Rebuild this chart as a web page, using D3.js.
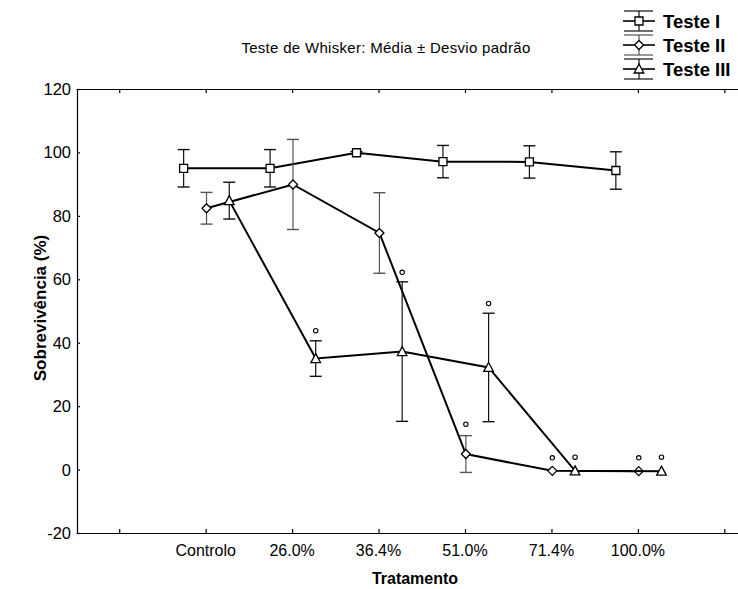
<!DOCTYPE html>
<html>
<head>
<meta charset="utf-8">
<script src="https://cdn.jsdelivr.net/npm/d3@7"></script>
<style>
    body { margin: 0; background: #fff; }
    svg { display: block; font-family: "Liberation Sans", Arial, sans-serif; }
</style>
</head>
<body>
<div id="chart"></div>
<script>
// Categories and tick labels
const categories = ['Controlo', '26.0%', '36.4%', '51.0%', '71.4%', '100.0%'];
const yTicks = [-20, 0, 20, 40, 60, 80, 100, 120];
const seriesNames = ['Teste I', 'Teste II', 'Teste III'];

// Means (%) per category
const meanI   = [95.0, 95.0, 99.9, 97.1, 97.0, 94.3];
const meanII  = [82.4, 89.9, 74.6, 4.9, -0.4, -0.5];
const meanIII = [84.8, 35.0, 37.2, 32.2, -0.4, -0.5];

// Standard deviations
const sdI   = [5.9, 5.9, 0.4, 5.1, 5.1, 5.9];
const sdII  = [5.0, 14.2, 12.7, 5.8, 0, 0];
const sdIII = [5.8, 5.6, 22.0, 17.1, 0, 0];

// Significance marks ("o") above points, null = none
const sigI   = [null, null, null, null, null, null];
const sigII  = [null, null, null, 14.3, 3.7, 3.7];
const sigIII = [null, 43.8, 62.2, 52.4, 3.9, 3.9];

const W = 738, H = 589;
const margin = { left: 77, top: 89, bottom: 533 };

const svg = d3.select('#chart').append('svg')
    .attr('width', W)
    .attr('height', H);

// x: tick slots 0..7, categories sit at slots 1..6
const x = d3.scaleLinear().domain([-0.5, 8.5]).range([76, 854]);
const y = d3.scaleLinear().domain([-20, 120]).range([margin.bottom, margin.top]);

const series = [
    { name: seriesNames[0], mean: meanI, sd: sdI, sig: sigI, shift: -0.255, shape: 'square', barColor: '#111' },
    { name: seriesNames[1], mean: meanII, sd: sdII, sig: sigII, shift: 0.01, shape: 'diamond', barColor: '#555' },
    { name: seriesNames[2], mean: meanIII, sd: sdIII, sig: sigIII, shift: 0.273, shape: 'triangle', barColor: '#111' }
];

// Frame: left, bottom and top axes (right side falls outside the window)
const axisG = svg.append('g');
axisG.append('g')
    .attr('transform', `translate(0,${margin.bottom})`)
    .call(d3.axisBottom(x).tickValues(d3.range(0, 9)).tickSizeInner(-4).tickSizeOuter(0).tickFormat(''));
axisG.append('g')
    .attr('transform', `translate(0,${margin.top})`)
    .call(d3.axisTop(x).tickValues(d3.range(0, 9)).tickSizeInner(-4).tickSizeOuter(0).tickFormat(''));
axisG.append('g')
    .attr('transform', `translate(${margin.left},0)`)
    .call(d3.axisLeft(y).tickValues(yTicks).tickSizeInner(-3).tickSizeOuter(0).tickFormat(''));
axisG.selectAll('path.domain, line').attr('stroke', '#000').attr('stroke-width', 1.2);

// y tick labels
svg.append('g').selectAll('text')
    .data(yTicks)
    .enter().append('text')
    .attr('x', 71)
    .attr('y', d => y(d) + 6)
    .attr('text-anchor', 'end')
    .attr('font-size', '16.5px')
    .text(d => d);

// x tick labels
svg.append('g').selectAll('text')
    .data(categories)
    .enter().append('text')
    .attr('x', (d, i) => x(i + 1))
    .attr('y', 556)
    .attr('text-anchor', 'middle')
    .attr('font-size', '16px')
    .text(d => d);

// Axis titles
svg.append('text')
    .attr('transform', `translate(46,${(margin.top + margin.bottom) / 2 - 3}) rotate(-90)`)
    .attr('text-anchor', 'middle')
    .attr('font-size', '17px')
    .attr('font-weight', 'bold')
    .text('Sobrevivência (%)');

svg.append('text')
    .attr('x', 415)
    .attr('y', 584)
    .attr('text-anchor', 'middle')
    .attr('font-size', '16px')
    .attr('font-weight', 'bold')
    .text('Tratamento');

svg.append('text')
    .attr('x', 386)
    .attr('y', 53)
    .attr('text-anchor', 'middle')
    .attr('font-size', '15px')
    .attr('letter-spacing', '0.3px')
    .text('Teste de Whisker: Média ± Desvio padrão');

function symbolPath(shape) {
    if (shape === 'square') return 'M-4,-4H4V4H-4Z';
    if (shape === 'diamond') return 'M0,-4.5L4.5,0L0,4.5L-4.5,0Z';
    return 'M0,-5L4.8,4L-4.8,4Z';
}

const plot = svg.append('g');

series.forEach(s => {
    const g = plot.append('g');
    const pts = s.mean.map((m, i) => ({ i, m, sd: s.sd[i], sig: s.sig[i], px: x(i + 1 + s.shift) }));

    // error bars
    pts.filter(p => p.sd > 0).forEach(p => {
        g.append('line')
            .attr('x1', p.px).attr('x2', p.px)
            .attr('y1', y(p.m + p.sd)).attr('y2', y(p.m - p.sd))
            .attr('stroke', s.barColor).attr('stroke-width', 1.2);
        [p.m + p.sd, p.m - p.sd].forEach(v => {
            g.append('line')
                .attr('x1', p.px - 6).attr('x2', p.px + 6)
                .attr('y1', y(v)).attr('y2', y(v))
                .attr('stroke', s.barColor).attr('stroke-width', 1.4);
        });
    });

    // connecting line
    g.append('path')
        .datum(pts)
        .attr('fill', 'none')
        .attr('stroke', '#000')
        .attr('stroke-width', 2)
        .attr('d', d3.line().x(p => p.px).y(p => y(p.m)));

    // markers
    g.selectAll('path.marker')
        .data(pts)
        .enter().append('path')
        .attr('class', 'marker')
        .attr('transform', p => `translate(${p.px},${y(p.m)})`)
        .attr('d', symbolPath(s.shape))
        .attr('fill', '#fff')
        .attr('stroke', '#000')
        .attr('stroke-width', 1.3);

    // significance marks
    g.selectAll('circle.sig')
        .data(pts.filter(p => p.sig !== null))
        .enter().append('circle')
        .attr('class', 'sig')
        .attr('cx', p => p.px)
        .attr('cy', p => y(p.sig))
        .attr('r', 2.2)
        .attr('fill', 'none')
        .attr('stroke', '#000')
        .attr('stroke-width', 1.1);
});

// Legend
const legend = svg.append('g').attr('transform', 'translate(639,0)');
const legendY = [21, 45, 69];
series.forEach((s, k) => {
    const cy = legendY[k];
    const lg = legend.append('g').attr('transform', `translate(0,${cy})`);
    lg.append('line').attr('x1', -16).attr('x2', 16).attr('y1', 0).attr('y2', 0)
        .attr('stroke', '#000').attr('stroke-width', 1.6);
    lg.append('line').attr('x1', 0).attr('x2', 0).attr('y1', -10).attr('y2', 10)
        .attr('stroke', s.barColor).attr('stroke-width', 1.2);
    [-10, 10].forEach(dy => {
        lg.append('line').attr('x1', -15).attr('x2', 14).attr('y1', dy).attr('y2', dy)
            .attr('stroke', s.barColor).attr('stroke-width', 1.2);
    });
    lg.append('path').attr('d', symbolPath(s.shape))
        .attr('fill', '#fff').attr('stroke', '#000').attr('stroke-width', 1.3);
    lg.append('text')
        .attr('x', 24).attr('y', 7)
        .attr('font-size', '18.5px')
        .attr('font-weight', 'bold')
        .text(s.name);
});
</script>
</body>
</html>
